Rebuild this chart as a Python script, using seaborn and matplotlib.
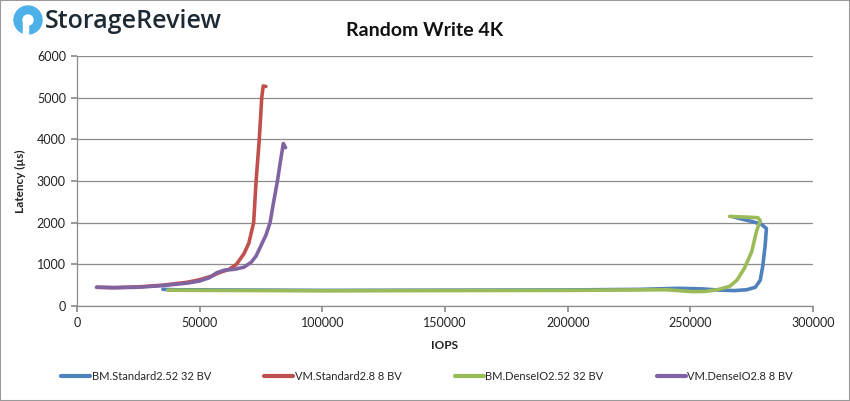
"""Random Write 4K latency vs IOPS chart."""

import matplotlib
matplotlib.use("Agg")
import matplotlib.pyplot as plt
import matplotlib.patches as mpatches
import pandas as pd
import seaborn as sns

series_names = [
    "BM.Standard2.52 32 BV",
    "VM.Standard2.8 8 BV",
    "BM.DenseIO2.52 32 BV",
    "VM.DenseIO2.8 8 BV",
]
series_colors = ["#4F81BD", "#C0504D", "#9BBB59", "#8064A2"]

bm_std_iops = [35000, 40000, 60000, 100000, 150000, 200000, 230000, 245000,
               255000, 262000, 268000, 273000, 276500, 278500, 279500,
               280500, 281000, 279000, 275000, 270000, 267500]
bm_std_lat = [400, 390, 385, 375, 380, 385, 400, 425, 410, 380, 370, 390,
              450, 620, 950, 1450, 1860, 1960, 2030, 2100, 2140]

vm_std_iops = [8000, 15000, 25000, 35000, 45000, 50000, 55000, 58000, 62000,
               65000, 68000, 70000, 71000, 72000, 73000, 74300, 75300,
               75900, 77000]
vm_std_lat = [450, 440, 460, 500, 570, 630, 720, 800, 880, 1000, 1250,
              1500, 1750, 2000, 3000, 4000, 5000, 5280, 5270]

bm_dense_iops = [37000, 50000, 100000, 150000, 200000, 240000, 251000,
                 256000, 261000, 266000, 269000, 272000, 275000, 277000,
                 278500, 277500, 274000, 270000, 266000]
bm_dense_lat = [380, 375, 365, 370, 375, 390, 345, 350, 390, 470, 620,
                900, 1300, 1800, 2050, 2120, 2130, 2140, 2150]

vm_dense_iops = [8000, 15000, 25000, 35000, 45000, 50000, 54000, 57000,
                 60000, 64000, 68000, 71000, 73000, 75000, 77000, 78700,
                 80000, 81700, 83000, 84100, 85000]
vm_dense_lat = [450, 440, 450, 490, 550, 600, 680, 800, 860, 880, 930,
                1050, 1200, 1450, 1700, 2000, 2450, 3000, 3500, 3900, 3800]

x_ticks = [0, 50000, 100000, 150000, 200000, 250000, 300000]
y_ticks = [0, 1000, 2000, 3000, 4000, 5000, 6000]

frames = []
for name, xs, ys in zip(
    series_names,
    [bm_std_iops, vm_std_iops, bm_dense_iops, vm_dense_iops],
    [bm_std_lat, vm_std_lat, bm_dense_lat, vm_dense_lat],
):
    frames.append(pd.DataFrame({"IOPS": xs, "Latency": ys, "series": name}))
df = pd.concat(frames, ignore_index=True)

sns.set_theme(style="white")
plt.rcParams["font.family"] = ["Lato", "DejaVu Sans"]

W, H = 850, 401
fig = plt.figure(figsize=(W / 100, H / 100), dpi=100)
ax = fig.add_axes([77 / W, 1 - 306 / H, 736 / W, 250 / H])

for name, color in zip(series_names, series_colors):
    sub = df[df["series"] == name]
    sns.lineplot(data=sub, x="IOPS", y="Latency", sort=False, estimator=None,
                 color=color, linewidth=2.6, ax=ax, label=name,
                 solid_capstyle="round", solid_joinstyle="round")

ax.set_xlim(0, 300000)
ax.set_ylim(0, 6000)
ax.set_xticks(x_ticks)
ax.set_yticks(y_ticks)
ax.set_xticklabels([str(v) for v in x_ticks], fontsize=9, color="#222222")
ax.set_yticklabels([str(v) for v in y_ticks], fontsize=9, color="#222222")
ax.yaxis.grid(True, color="#8c8c8c", linewidth=0.9)
ax.set_axisbelow(True)
for side in ["top", "right"]:
    ax.spines[side].set_visible(False)
for side in ["left", "bottom"]:
    ax.spines[side].set_color("#8c8c8c")
    ax.spines[side].set_linewidth(0.9)
ax.tick_params(axis="x", direction="out", length=4, color="#8c8c8c",
               bottom=True, pad=4)
ax.tick_params(axis="y", direction="out", length=4, color="#8c8c8c",
               left=True, pad=4)
ax.set_xlabel("IOPS", fontsize=8.5, fontweight="bold", color="#222222",
              labelpad=8)
ax.set_ylabel("Latency (µs)", fontsize=8.5, fontweight="bold",
              color="#222222", labelpad=8)

leg = ax.legend(loc="center", bbox_to_anchor=(427 / W, 1 - 376 / H),
                bbox_transform=fig.transFigure, ncol=4, frameon=False,
                fontsize=8, handlelength=2.6, columnspacing=4.8,
                handletextpad=0.15)
for line in leg.get_lines():
    line.set_linewidth(3)

fig.text(425 / W, 1 - 30 / H, "Random Write 4K", ha="center", va="center",
         fontsize=14, fontweight="bold", color="#111111")

# logo
cx, cy = 28, 20
fig.patches.append(mpatches.Ellipse((cx / W, 1 - cy / H), 28 / W, 28 / H,
                                    transform=fig.transFigure,
                                    color="#4DB1E9", zorder=5))
fig.patches.append(mpatches.Ellipse((cx / W, 1 - cy / H), 10 / W, 10 / H,
                                    transform=fig.transFigure,
                                    color="white", zorder=6))
fig.patches.append(mpatches.Rectangle(((cx - 5) / W, 1 - (cy + 14) / H),
                                      5 / W, 14 / H,
                                      transform=fig.transFigure,
                                      color="white", zorder=6))
fig.text(45 / W, 1 - 21 / H, "StorageReview", ha="left", va="center",
         fontsize=18, fontweight="semibold", color="#1d2a33",
         family=["Open Sans", "DejaVu Sans"])

fig.patches.append(mpatches.Rectangle((0, 0), 1, 1, transform=fig.transFigure,
                                      fill=False, edgecolor="#9a9a9a",
                                      linewidth=1.5))

fig.savefig("out.png", dpi=100)
plt.close(fig)
